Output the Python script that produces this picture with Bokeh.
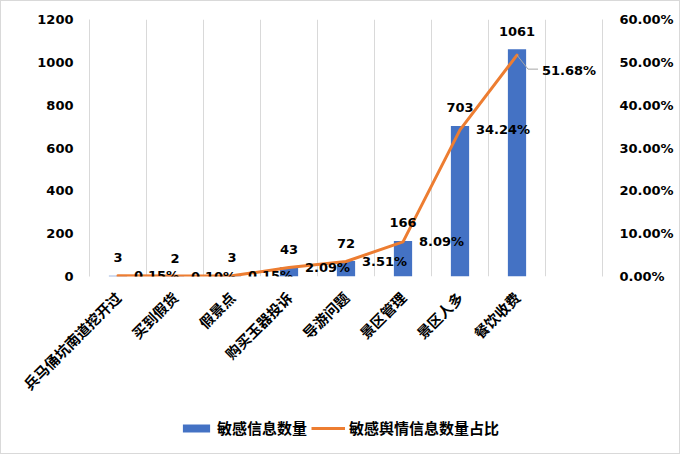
from bokeh.plotting import figure
from bokeh.layouts import column
from bokeh.models import (Range1d, LinearAxis, FixedTicker, NumeralTickFormatter,
                          ColumnDataSource, Legend, LegendItem, LabelSet)
from bokeh.core.properties import value
from bokeh.embed import file_html
from bokeh.resources import INLINE
import math

categories = ["兵马俑坑南道挖开过", "买到假货", "假景点", "购买玉器投诉",
              "导游问题", "景区管理", "景区人多", "餐饮收费"]
counts = [3, 2, 3, 43, 72, 166, 703, 1061]
shares = [0.0015, 0.0010, 0.0015, 0.0209, 0.0351, 0.0809, 0.3424, 0.5168]
left_ticks = [0, 200, 400, 600, 800, 1000, 1200]
right_ticks = [0.0, 0.1, 0.2, 0.3, 0.4, 0.5, 0.6]
series_names = ["敏感信息数量", "敏感舆情信息数量占比"]

BLUE = "#4472C4"
ORANGE = "#ED7D31"
GRID = "#d9d9d9"
NUM_FONT = "DejaVu Sans"
CJK_FONT = "Noto Sans CJK SC"

xs = list(range(len(categories)))
src = ColumnDataSource(dict(
    x=xs, count=counts, share=shares,
    count_txt=[str(c) for c in counts],
    share_txt=[f"{s*100:.2f}%" for s in shares],
))

p = figure(width=678, height=403, output_backend="svg", toolbar_location=None,
           x_range=Range1d(-0.5, len(categories) + 0.5),
           y_range=Range1d(0, 1200),
           min_border_left=88, min_border_right=77, min_border_top=18, min_border_bottom=128)
p.outline_line_color = None
p.background_fill_color = "white"
p.border_fill_color = "white"

p.extra_y_ranges = {"pct": Range1d(0, 0.6)}

# grids
p.ygrid.grid_line_color = None
p.xgrid.ticker = FixedTicker(ticks=[i - 0.5 for i in range(len(categories) + 2)])
p.xgrid.grid_line_color = GRID
p.xgrid.grid_line_width = 1

# left axis
ya = p.yaxis[0]
ya.ticker = FixedTicker(ticks=left_ticks)
ya.axis_line_color = GRID
ya.major_tick_line_color = None
ya.minor_tick_line_color = None
ya.major_label_text_font = NUM_FONT
ya.major_label_text_font_style = "bold"
ya.major_label_text_font_size = "13px"
ya.major_label_text_color = "black"
ya.major_label_standoff = 10

# right axis
ra = LinearAxis(y_range_name="pct")
ra.ticker = FixedTicker(ticks=right_ticks)
ra.formatter = NumeralTickFormatter(format="0.00%")
ra.axis_line_color = GRID
ra.major_tick_line_color = None
ra.minor_tick_line_color = None
ra.major_label_text_font = NUM_FONT
ra.major_label_text_font_style = "bold"
ra.major_label_text_font_size = "13px"
ra.major_label_text_color = "black"
ra.major_label_standoff = 11
p.add_layout(ra, "right")

# bottom axis
xa = p.xaxis[0]
xa.ticker = FixedTicker(ticks=xs)
xa.major_label_overrides = {i: c for i, c in enumerate(categories)}
xa.major_label_orientation = math.pi / 4
xa.axis_line_color = None
xa.major_tick_line_color = None
xa.minor_tick_line_color = None
xa.major_label_text_font = CJK_FONT
xa.major_label_text_font_style = "bold"
xa.major_label_text_font_size = "14.5px"
xa.major_label_text_color = "black"
xa.major_label_standoff = 12

bars = p.vbar(x="x", top="count", width=0.32, source=src, fill_color=BLUE, line_color=None)
line = p.line(x="x", y="share", source=src, line_color=ORANGE, line_width=3,
              y_range_name="pct", line_join="round", line_cap="round")

count_labels = LabelSet(x="x", y="count", text="count_txt", source=src,
                        text_align="center", text_baseline="middle", y_offset=18,
                        text_font=value(NUM_FONT), text_font_style="bold",
                        text_font_size="13px", text_color="black")
p.add_layout(count_labels)

src_share_main = ColumnDataSource(dict(
    x=xs[:-1], share=shares[:-1],
    share_txt=[f"{s*100:.2f}%" for s in shares[:-1]]))
share_labels = LabelSet(x="x", y="share", text="share_txt", source=src_share_main,
                        y_range_name="pct", text_align="left", text_baseline="middle",
                        x_offset=16, text_font=value(NUM_FONT), text_font_style="bold",
                        text_font_size="13px", text_color="black")
p.add_layout(share_labels)

# last share label with leader line
px_per_x = 57.0
pct_per_px = 0.6 / 257.0
lx, ly = xs[-1], shares[-1]
p.line(x=[lx, lx + 11 / px_per_x, lx + 21 / px_per_x],
       y=[ly, ly - 14 * pct_per_px, ly - 14 * pct_per_px],
       y_range_name="pct", line_color="#a6a6a6", line_width=1)
src_last = ColumnDataSource(dict(x=[lx], share=[ly], share_txt=[f"{ly*100:.2f}%"]))
last_label = LabelSet(x="x", y="share", text="share_txt", source=src_last,
                      y_range_name="pct", text_align="left", text_baseline="middle",
                      x_offset=25, y_offset=-15, text_font=value(NUM_FONT),
                      text_font_style="bold", text_font_size="13px", text_color="black")
p.add_layout(last_label)

# legend strip (proxy renderers with zero-size marks only feed the legend swatches)
lp = figure(width=678, height=49, output_backend="svg", toolbar_location=None,
            x_range=Range1d(0, 678), y_range=Range1d(0, 49),
            x_axis_type=None, y_axis_type=None, min_border=0)
lp.outline_line_color = None
lp.grid.grid_line_color = None
lp.border_fill_color = "white"
lb = lp.vbar(x=[0], top=[0], bottom=[0], width=0.0, fill_color=BLUE, line_color=None)
ll = lp.line(x=[0, 0], y=[0, 0], line_color=ORANGE, line_width=3)
legend = Legend(items=[LegendItem(label=series_names[0], renderers=[lb], index=0),
                       LegendItem(label=series_names[1], renderers=[ll], index=0)],
                orientation="horizontal", location=(90, 15),
                glyph_width=34, glyph_height=10, label_standoff=4, spacing=4,
                padding=0, margin=0, border_line_color=None,
                background_fill_alpha=0,
                label_text_font=CJK_FONT, label_text_font_style="bold",
                label_text_font_size="15px", label_text_color="black",
                label_height=15)
lp.add_layout(legend, "center")

layout = column(p, lp, spacing=0, styles={"border": "1px solid #d9d9d9"})

open("out.html", "w").write(file_html(layout, INLINE))
